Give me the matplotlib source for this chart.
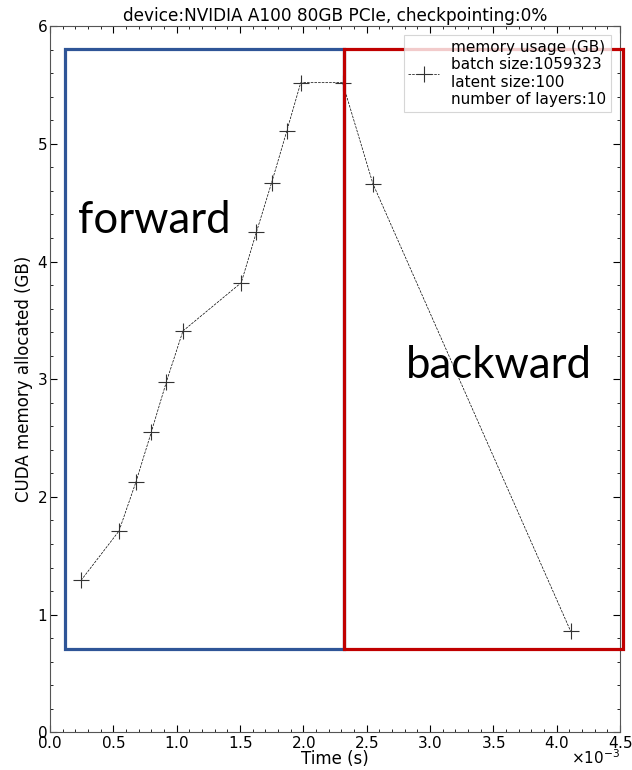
import matplotlib
matplotlib.use("Agg")
import matplotlib.pyplot as plt
from matplotlib.patches import Rectangle
from matplotlib.ticker import MultipleLocator

# Memory trace of one training step (time in seconds, memory in GB)
time_s = [0.245e-3, 0.545e-3, 0.68e-3, 0.80e-3, 0.92e-3, 1.05e-3, 1.51e-3,
          1.63e-3, 1.75e-3, 1.87e-3, 1.98e-3, 2.31e-3, 2.55e-3, 4.11e-3]
memory_gb = [1.29, 1.71, 2.13, 2.55, 2.98, 3.41, 3.82,
             4.25, 4.67, 5.11, 5.52, 5.52, 4.66, 0.86]

title = "device:NVIDIA A100 80GB PCIe, checkpointing:0%"
legend_label = ("memory usage (GB)\nbatch size:1059323\n"
                "latent size:100\nnumber of layers:10")

# Phase boxes: (x start, x end) in seconds, (y low, y high) in GB
forward_span = (0.119e-3, 2.32e-3)
backward_span = (2.32e-3, 4.52e-3)
box_y = (0.705, 5.81)

fig = plt.figure(figsize=(6.32, 7.70), dpi=100)
ax = fig.add_axes([0.079, 0.049, 0.902, 0.917])

ax.plot(time_s, memory_gb, linestyle="--", color="black", linewidth=0.5,
        marker="+", markersize=11, markeredgewidth=0.8,
        markeredgecolor="#333333", label=legend_label)

ax.set_xlim(0, 4.5e-3)
ax.set_ylim(0, 6)
ax.xaxis.set_major_locator(MultipleLocator(0.5e-3))
ax.xaxis.set_minor_locator(MultipleLocator(0.1e-3))
ax.yaxis.set_major_locator(MultipleLocator(1))
ax.yaxis.set_minor_locator(MultipleLocator(0.2))
ax.ticklabel_format(axis="x", style="sci", scilimits=(-3, -3), useMathText=True)
ax.tick_params(which="both", direction="in", top=True, right=True,
               labelsize=11, pad=2)
ax.tick_params(which="major", length=5)
ax.tick_params(which="minor", length=2.5)
for s in ax.spines.values():
    s.set_color("#555555")
    s.set_linewidth(0.8)

ax.set_title(title, fontsize=12.2, pad=4)
ax.set_xlabel("Time (s)", fontsize=12, labelpad=-1)
ax.set_ylabel("CUDA memory allocated (GB)", fontsize=12, labelpad=3)

leg = ax.legend(loc="upper right", fontsize=11, frameon=True, fancybox=False,
                handlelength=2.0, borderpad=0.3, labelspacing=0.2,
                borderaxespad=0.6)
leg.get_frame().set_edgecolor("#cccccc")
leg.get_frame().set_linewidth(0.8)

for span, color in ((forward_span, "#2F5597"), (backward_span, "#C00000")):
    ax.add_patch(Rectangle((span[0], box_y[0]), span[1] - span[0],
                           box_y[1] - box_y[0], fill=False, edgecolor=color,
                           linewidth=2.3, clip_on=False, zorder=5))

ax.text(0.22e-3, 4.35, "forward", fontsize=31.5, family="Lato",
        va="center", ha="left")
ax.text(2.81e-3, 3.12, "backward", fontsize=31.5, family="Lato",
        va="center", ha="left")

# Place the x scale factor just under the right end of the tick labels
fig.canvas.draw()
offset = ax.xaxis.get_major_formatter().get_offset()
ax.xaxis.get_offset_text().set_visible(False)
ax.text(1.0, -0.022, offset, transform=ax.transAxes, ha="right", va="top",
        fontsize=11)

fig.savefig("out.png", dpi=100)
